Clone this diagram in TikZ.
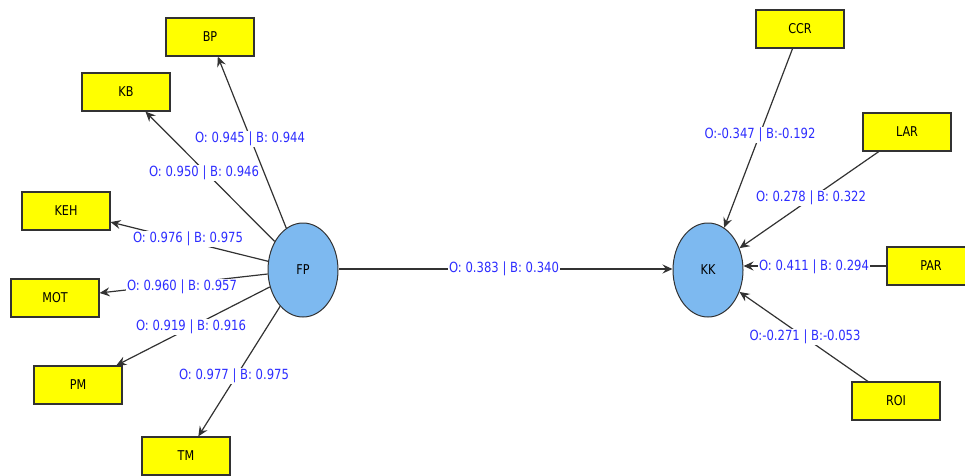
\documentclass[tikz,border=0pt]{standalone}
\usepackage{fontspec}
\setmainfont{DejaVu Sans}[FakeStretch=0.83]
\usetikzlibrary{arrows.meta,shapes.geometric}
\definecolor{boxyellow}{RGB}{255,255,0}
\definecolor{lvblue}{RGB}{125,185,240}
\definecolor{lblblue}{RGB}{45,45,255}
\definecolor{edgegray}{RGB}{50,50,50}
\tikzset{
  ind/.style={rectangle, draw=edgegray, line width=1.2pt, fill=boxyellow, minimum width=88pt, minimum height=38pt, inner sep=0pt, font=\fontsize{13.5}{15}\selectfont},
  lv/.style={ellipse, draw=edgegray, line width=1pt, fill=lvblue, minimum width=70pt, minimum height=94pt, inner sep=0pt, font=\fontsize{13.5}{15}\selectfont},
  lbl/.style={fill=white, text=lblblue, inner sep=1pt, font=\fontsize{14}{16}\selectfont},
  conn/.style={draw=edgegray, line width=1.2pt, -{Stealth[length=10pt,width=9pt,inset=3.5pt]}},
}
\begin{document}
\begin{tikzpicture}[x=1pt,y=-1pt]
\useasboundingbox (0,0) rectangle (965,475);
% latent variables
\node[lv] (FP) at (303,270) {FP};
\node[lv] (KK) at (708,270) {KK};
% indicators
\node[ind] (BP) at (210,37) {BP};
\node[ind] (KB) at (126,92) {KB};
\node[ind] (KEH) at (66,211) {KEH};
\node[ind] (MOT) at (55,298) {MOT};
\node[ind] (PM) at (78,385) {PM};
\node[ind] (TM) at (186,456) {TM};
\node[ind] (CCR) at (800,29) {CCR};
\node[ind] (LAR) at (907,132) {LAR};
\node[ind] (PAR) at (931,266) {PAR};
\node[ind] (ROI) at (896,401) {ROI};
% connectors
\draw[conn] (FP) -- (BP);
\draw[conn] (FP) -- (KB);
\draw[conn] (FP) -- (KEH);
\draw[conn] (FP) -- (MOT);
\draw[conn] (FP) -- (PM);
\draw[conn] (FP) -- (TM);
\draw[conn] (FP.east |- 0,269) -- (KK.west |- 0,269);
\draw[conn] (CCR) -- (KK);
\draw[conn] (LAR) -- (KK);
\draw[conn] (PAR.west |- 0,266) -- (KK.east |- 0,266);
\draw[conn] (ROI) -- (KK);
% labels
\node[lbl] (lBP) at (250,139) {O: 0.945 | B: 0.944};
\node[lbl] (lKB) at (204,173) {O: 0.950 | B: 0.946};
\node[lbl] (lKEH) at (188,239) {O: 0.976 | B: 0.975};
\node[lbl] (lMOT) at (182,287) {O: 0.960 | B: 0.957};
\node[lbl] (lPM) at (191,327) {O: 0.919 | B: 0.916};
\node[lbl] (lTM) at (234,376) {O: 0.977 | B: 0.975};
\node[lbl] (lFK) at (504,269) {O: 0.383 | B: 0.340};
\node[lbl] (lCCR) at (760,135) {O:-0.347 | B:-0.192};
\node[lbl] (lLAR) at (811,198) {O: 0.278 | B: 0.322};
\node[lbl] (lPAR) at (814,267) {O: 0.411 | B: 0.294};
\node[lbl] (lROI) at (805,337) {O:-0.271 | B:-0.053};
\end{tikzpicture}
\end{document}
